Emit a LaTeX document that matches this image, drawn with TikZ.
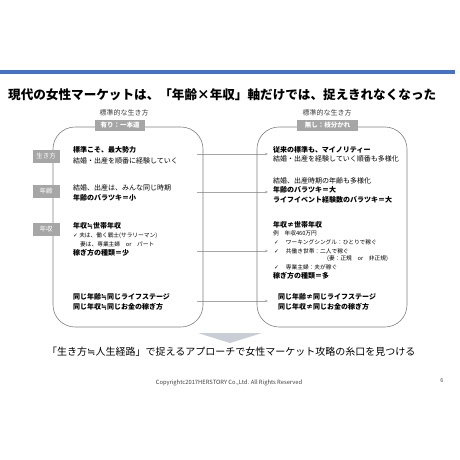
\documentclass[tikz,border=0pt]{standalone}
\usepackage{fontspec}
\usetikzlibrary{arrows.meta}
\newfontfamily\jp{Noto Sans CJK JP}
\newfontfamily\sym{DejaVu Sans}
\definecolor{bandblue}{HTML}{4472C4}
\definecolor{labelgrey}{HTML}{A6A6A6}
\definecolor{framegrey}{HTML}{808080}
\definecolor{chevgrey}{HTML}{C9CDD6}
\definecolor{headtext}{HTML}{404040}
\newcommand{\chk}{{\sym ✓}}
\newcommand{\nearly}{{\sym ≒}}

\begin{document}
\begin{tikzpicture}[
	x=1pt, y=-1pt,
	bodytext/.style={ anchor=west, inner sep=0pt, font=\jp\fontsize{7}{8}\selectfont },
	boldtext/.style={ anchor=west, inner sep=0pt, font=\jp\bfseries\fontsize{7}{8}\selectfont },
	smalltext/.style={ anchor=west, inner sep=0pt, font=\jp\fontsize{5.7}{6}\selectfont },
	headlabel/.style={ fill=labelgrey, text=white, inner sep=0pt, minimum height=11pt, font=\jp\bfseries\fontsize{6.5}{7}\selectfont },
	sidelabel/.style={ fill=labelgrey, text=white, inner sep=0pt, minimum width=27pt, minimum height=13pt, font=\jp\fontsize{6.5}{7}\selectfont },
	lifebox/.style={ draw=framegrey, rounded corners=22pt, line width=0.6pt },
	rowarrow/.style={ draw=labelgrey, line width=0.5pt, -{Stealth[length=3pt,width=2.5pt]} }
]
	\fill[white] (0,0) rectangle (460,460);
	\useasboundingbox (0,0) rectangle (460,460);

	\fill[bandblue] (0,70) rectangle (455,74);
	\node[anchor=west, inner sep=0pt, font=\jp\bfseries\fontsize{12.6}{14}\selectfont] (title) at (8,95) {現代の女性マーケットは、「年齢×年収」軸だけでは、捉えきれなくなった};

	\foreach \i/\y in {1/154,2/192,3/251,4/301} {
		\coordinate (s\i) at (197,\y);
		\coordinate (e\i) at (268,\y);
		\draw[rowarrow] (s\i) -- (e\i);
	}

	\draw[lifebox] (53,127) rectangle (203,327);
	\draw[lifebox] (257,127) rectangle (407,327);

	\node[anchor=center, inner sep=0pt, text=headtext, font=\jp\fontsize{7}{8}\selectfont] (lefthead) at (124,113) {標準的な生き方};
	\node[anchor=center, inner sep=0pt, text=headtext, font=\jp\fontsize{7}{8}\selectfont] (righthead) at (327,113) {標準的な生き方};
	\node[headlabel, minimum width=50pt] (lefttag) at (120,125) {有り：一本道};
	\node[headlabel, minimum width=61pt] (righttag) at (327.5,125) {無し：枝分かれ};

	\node[sidelabel] (way) at (46,156) {生き方};
	\node[sidelabel] (age) at (46,191) {年齢};
	\node[sidelabel] (income) at (46,229) {年収};

	\node[boldtext] (l1) at (73,150) {標準こそ、最大勢力};
	\node[bodytext] (l2) at (73,161) {結婚・出産を順番に経験していく};
	\node[bodytext] (l3) at (73,188) {結婚、出産は、みんな同じ時期};
	\node[boldtext] (l4) at (73,198) {年齢のバラツキ＝小};
	\node[boldtext] (l5) at (73,226) {年収\nearly 世帯年収};
	\node[smalltext] (l6) at (73,236) {\chk\ 夫は、働く戦士(サラリーマン)};
	\node[smalltext] (l7) at (80,244) {妻は、専業主婦　or　パート};
	\node[boldtext] (l8) at (73,253) {稼ぎ方の種類＝少};
	\node[boldtext] (l9) at (73,297) {同じ年齢\nearly 同じライフステージ};
	\node[boldtext] (l10) at (73,307) {同じ年収\nearly 同じお金の稼ぎ方};

	\node[boldtext] (r1) at (273,150) {従来の標準も、マイノリティー};
	\node[bodytext] (r2) at (273,159) {結婚・出産を経験していく順番も多様化};
	\node[bodytext] (r3) at (273,181) {結婚、出産時期の年齢も多様化};
	\node[boldtext] (r4) at (273,190) {年齢のバラツキ＝大};
	\node[boldtext] (r5) at (273,200) {ライフイベント経験数のバラツキ＝大};
	\node[boldtext] (r6) at (273,225) {年収≠世帯年収};
	\node[smalltext] (r7) at (273,233) {例　年収460万円};
	\node[smalltext] (r8) at (274,242) {\chk\hspace{7pt}ワーキングシングル：ひとりで稼ぐ};
	\node[smalltext] (r9) at (274,251) {\chk\hspace{7pt}共働き世帯：二人で稼ぐ};
	\node[smalltext] (r10) at (327,259) {(妻：正規　or　非正規)};
	\node[smalltext] (r11) at (274,267) {\chk\hspace{7pt}専業主婦：夫が稼ぐ};
	\node[boldtext] (r12) at (273,276) {稼ぎ方の種類＝多};
	\node[boldtext] (r13) at (278,297) {同じ年齢≠同じライフステージ};
	\node[boldtext] (r14) at (278,307) {同じ年収≠同じお金の稼ぎ方};

	\fill[chevgrey] (198,333) -- (262,333) -- (230,343) -- cycle;

	\node[anchor=west, inner sep=0pt, font=\jp\fontsize{10}{12}\selectfont] (summary) at (47,352) {「生き方\nearly 人生経路」で捉えるアプローチで女性マーケット攻略の糸口を見つける};
	\node[inner sep=0pt, text=headtext, font=\jp\fontsize{5.8}{6}\selectfont] (copyright) at (229,383) {Copyrightc2017HERSTORY Co.,Ltd. All Rights Reserved};
	\node[inner sep=0pt, text=headtext, font=\jp\fontsize{5.5}{6}\selectfont] (pageno) at (442,381) {6};
\end{tikzpicture}
\end{document}
